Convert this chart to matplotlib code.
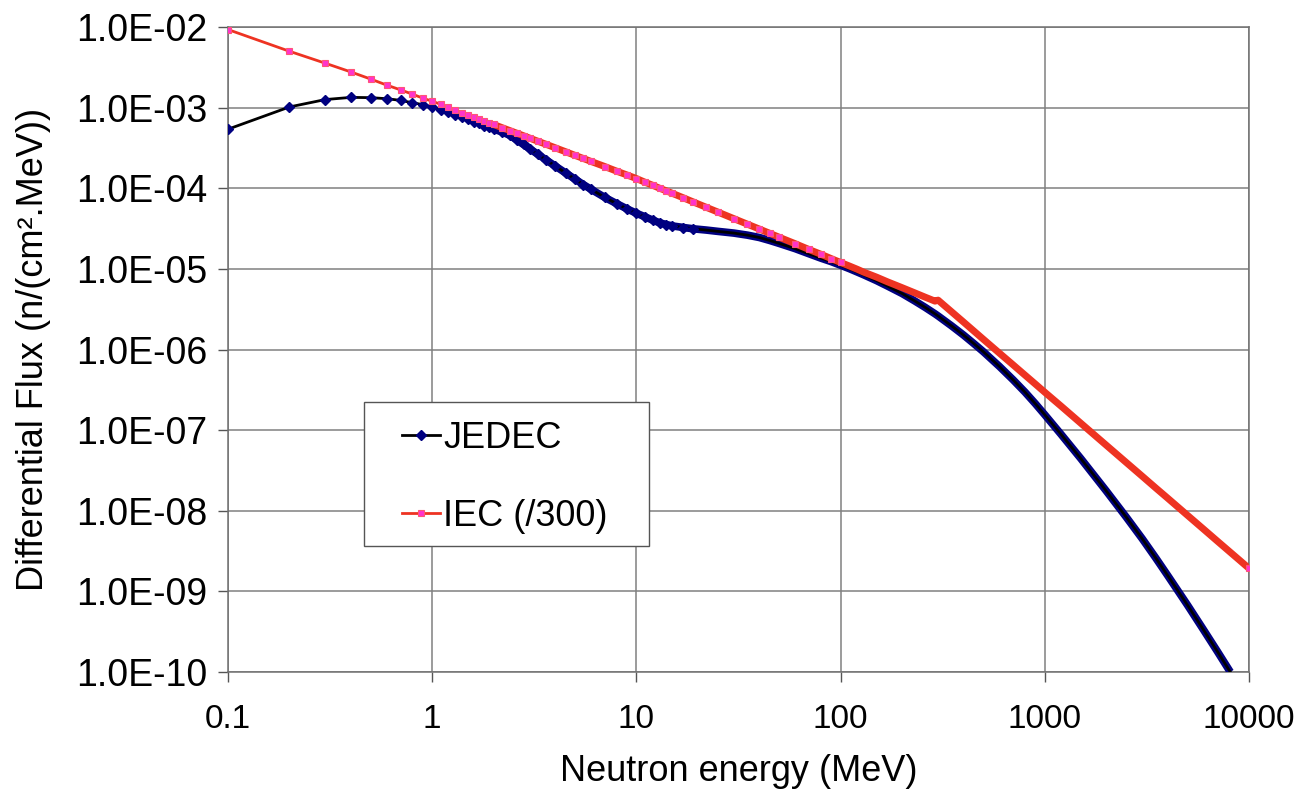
import matplotlib
matplotlib.use('Agg')
import matplotlib.pyplot as plt
from matplotlib.patches import Rectangle
from matplotlib.ticker import FixedLocator, FuncFormatter, NullLocator

plt.rcParams['font.family'] = ['Liberation Sans', 'DejaVu Sans']

# values
energy_jedec = [0.1, 0.2, 0.3, 0.4, 0.5, 0.6, 0.7, 0.8, 0.9, 1.0,
                1.1, 1.2, 1.3, 1.4, 1.5, 1.6, 1.7, 1.8, 1.9, 2.0,
                2.2, 2.4, 2.6, 2.8, 3.0, 3.3, 3.6, 4.0, 4.5, 5.0, 5.5, 6.0, 7.0, 8.0, 9.0, 10,
                11, 12, 13, 14, 15, 17, 19, 22, 25, 30, 35, 40, 45, 50, 60, 70, 80, 90, 100,
                110, 120, 130, 150, 170, 200, 230, 260, 290, 300, 350, 400, 450, 500,
                600, 700, 800, 900, 1000,
                1200, 1500, 2000, 2500, 3000, 3500, 4000, 5000, 6000, 7000, 8100]
flux_jedec = [5.4e-4, 1.02e-3, 1.26e-3, 1.34e-3, 1.33e-3, 1.29e-3, 1.23e-3, 1.15e-3, 1.09e-3, 1.02e-3,
              9.4e-4, 8.75e-4, 8.2e-4, 7.6e-4, 7.2e-4, 6.7e-4, 6.4e-4, 6.0e-4, 5.7e-4, 5.4e-4,
              5.0e-4, 4.53e-4, 3.97e-4, 3.49e-4, 3.09e-4, 2.63e-4, 2.26e-4, 1.89e-4, 1.55e-4, 1.30e-4,
              1.11e-4, 9.7e-5, 7.7e-5, 6.45e-5, 5.55e-5, 4.9e-5,
              4.43e-5, 4.03e-5, 3.73e-5, 3.55e-5, 3.41e-5, 3.26e-5, 3.14e-5, 3.03e-5, 2.92e-5,
              2.78e-5, 2.62e-5, 2.45e-5, 2.25e-5, 2.07e-5, 1.78e-5, 1.54e-5, 1.36e-5, 1.23e-5, 1.11e-5,
              1.01e-5, 9.2e-6, 8.43e-6, 7.15e-6, 6.11e-6, 4.95e-6, 4.02e-6, 3.32e-6, 2.77e-6, 2.61e-6,
              1.96e-6, 1.51e-6, 1.18e-6, 9.4e-7, 6.15e-7, 4.2e-7, 2.96e-7, 2.12e-7, 1.55e-7,
              8.9e-8, 4.45e-8, 1.76e-8, 8.4e-9, 4.5e-9, 2.58e-9, 1.57e-9, 6.75e-10, 3.31e-10, 1.8e-10, 1.0e-10]

energy_iec = [0.1, 0.2, 0.3, 0.4, 0.5, 0.6, 0.7, 0.8, 0.9, 1.0,
              1.1, 1.2, 1.3, 1.4, 1.5, 1.6, 1.7, 1.8, 1.9, 2.0,
              2.2, 2.4, 2.6, 2.8, 3.0, 3.3, 3.6, 4.0, 4.5, 5.0, 5.5, 6.0, 7.0, 8.0, 9.0, 10,
              11, 12, 13, 14, 15, 17, 19, 22, 25, 30, 35, 40, 45, 50, 60, 70, 80, 90, 100,
              110, 120, 130, 150, 170, 200, 230, 260, 290, 300, 350, 400, 450, 500,
              600, 700, 800, 900, 1000,
              1200, 1500, 2000, 2500, 3000, 3500, 4000, 5000, 6000, 7000, 8000, 9000, 10000]
flux_iec = [9.3e-3, 5.0e-3, 3.55e-3, 2.77e-3, 2.26e-3, 1.9e-3, 1.66e-3, 1.47e-3, 1.31e-3, 1.2e-3,
            1.10e-3, 1.01e-3, 9.35e-4, 8.7e-4, 8.15e-4, 7.66e-4, 7.22e-4, 6.84e-4, 6.49e-4, 6.18e-4,
            5.64e-4, 5.19e-4, 4.81e-4, 4.48e-4, 4.19e-4, 3.82e-4, 3.52e-4, 3.18e-4, 2.84e-4, 2.56e-4,
            2.34e-4, 2.15e-4, 1.86e-4, 1.63e-4, 1.46e-4, 1.32e-4,
            1.19e-4, 1.09e-4, 1.0e-4, 9.3e-5, 8.65e-5, 7.6e-5, 6.76e-5, 5.8e-5, 5.08e-5,
            4.2e-5, 3.58e-5, 3.12e-5, 2.76e-5, 2.47e-5, 2.05e-5, 1.74e-5, 1.52e-5, 1.34e-5, 1.2e-5,
            1.09e-5, 9.95e-6, 9.1e-6, 7.9e-6, 6.9e-6, 5.85e-6, 5.06e-6, 4.45e-6, 3.98e-6, 4.1e-6,
            2.93e-6, 2.19e-6, 1.69e-6, 1.34e-6, 9.0e-7, 6.44e-7, 4.81e-7, 3.72e-7, 2.95e-7,
            1.99e-7, 1.22e-7, 6.5e-8, 3.99e-8, 2.68e-8, 1.91e-8, 1.43e-8, 8.77e-9, 5.89e-9,
            4.2e-9, 3.14e-9, 2.43e-9, 1.93e-9]

x_ticks = [0.1, 1, 10, 100, 1000, 10000]
y_ticks = [1e-10, 1e-9, 1e-8, 1e-7, 1e-6, 1e-5, 1e-4, 1e-3, 1e-2]

fig = plt.figure(figsize=(13.08, 7.92), dpi=100)
ax = fig.add_axes([0.1743, 0.1515, 0.7806, 0.8144])

# where the original's markers merge into a solid band
i_j = energy_jedec.index(2.0)
i_i = energy_iec.index(2.0)
mk_j = [k for k, e in enumerate(energy_jedec) if e <= 20]
mk_i = [k for k, e in enumerate(energy_iec) if e <= 100 or e == 10000]

ax.plot(energy_jedec[i_j:], flux_jedec[i_j:], color='#000080', lw=5.5,
        solid_capstyle='butt', solid_joinstyle='round', zorder=3)
ax.plot(energy_jedec, flux_jedec, color='black', lw=2, marker='D', ms=5, markevery=mk_j,
        mfc='#000080', mec='#000080', label='JEDEC', zorder=4)

ax.plot(energy_iec[i_i:], flux_iec[i_i:], color='#EE3322', lw=5,
        solid_capstyle='butt', solid_joinstyle='round', zorder=5)
ax.plot(energy_iec, flux_iec, color='#EE3322', lw=2, marker='s', ms=4, markevery=mk_i,
        mfc='#FF33CC', mec='#FF5577', mew=0.8, label='IEC (/300)', zorder=6)

ax.set_xscale('log')
ax.set_yscale('log')
ax.set_xlim(0.1, 10000)
ax.set_ylim(1e-10, 1e-2)

ax.xaxis.set_major_locator(FixedLocator(x_ticks))
ax.yaxis.set_major_locator(FixedLocator(y_ticks))
ax.xaxis.set_minor_locator(NullLocator())
ax.yaxis.set_minor_locator(NullLocator())
ax.xaxis.set_major_formatter(FuncFormatter(lambda v, p: '%g' % v))
ax.yaxis.set_major_formatter(FuncFormatter(lambda v, p: '%.1E' % v))
ax.tick_params(axis='both', direction='out', length=7, width=1, color='#555555')
ax.tick_params(axis='x', labelsize=24, pad=16)
ax.tick_params(axis='y', labelsize=27, pad=8)

ax.grid(True, which='major', color='#808080', lw=1.1)
for s in ax.spines.values():
    s.set_color('#707070')
    s.set_linewidth(1.1)

ax.set_xlabel('Neutron energy (MeV)', fontsize=26, labelpad=14)
ax.set_ylabel('Differential Flux (n/(cm\u00b2.MeV))', fontsize=26, labelpad=18)

# legend box drawn separately so the padding matches the original
box = Rectangle((0.1332, 0.1953), 0.2791, 0.2233, transform=ax.transAxes,
                facecolor='white', edgecolor='#555555', lw=1.0, zorder=9)
ax.add_patch(box)
leg = ax.legend(loc='center left', bbox_to_anchor=(0.1704, 0.302), fontsize=26,
                frameon=False, borderpad=0, labelspacing=1.2, handlelength=1.05,
                handletextpad=0.1, borderaxespad=0)
leg.set_zorder(10)

fig.savefig('out.png', dpi=100)
